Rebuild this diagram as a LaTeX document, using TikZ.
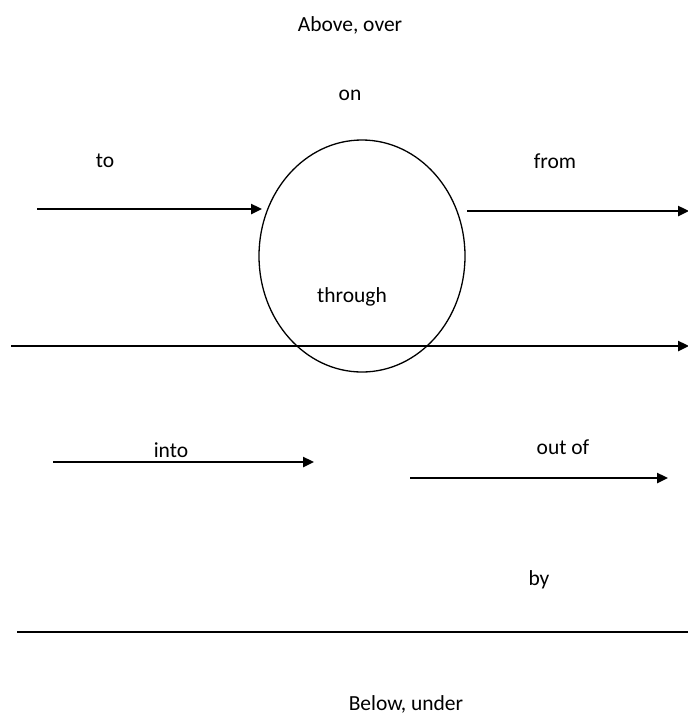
\documentclass[tikz,border=0pt]{standalone}
\usepackage{fontspec}
\setmainfont{Carlito}
\usetikzlibrary{arrows.meta,shapes.geometric}
\begin{document}
\begin{tikzpicture}[x=1pt,y=-1pt,
  lbl/.style={font=\fontsize{21.5}{24}\selectfont, inner sep=0pt},
  arr/.style={line width=2.4pt, -{Triangle[length=11pt,width=10pt]}},
  bar/.style={line width=2.4pt}]
\useasboundingbox (0,0) rectangle (688,716);
\node[lbl] (above) at (350,25) {Above, over};
\node[lbl] (on) at (350,95) {on};
\node[lbl] (to) at (105,161) {to};
\node[lbl] (from) at (555,161) {from};
\node[draw, ellipse, line width=1.3pt, minimum width=206pt, minimum height=232pt, inner sep=0pt] (circ) at (362,256) {};
\node[lbl] (through) at (352,297) {through};
\node[lbl, anchor=base] (into) at (171,457) {into};
\node[lbl] (outof) at (563,447) {out of};
\node[lbl] (by) at (539,580) {by};
\node[lbl] (below) at (406,704) {Below, under};
\coordinate (a1) at (37,209);
\coordinate (a2) at (262,209);
\coordinate (b1) at (467,211);
\coordinate (b2) at (689,211);
\coordinate (c1) at (11,346);
\coordinate (c2) at (689,346);
\coordinate (d1) at (53,462);
\coordinate (d2) at (314,462);
\coordinate (e1) at (410,478);
\coordinate (e2) at (668,478);
\coordinate (f1) at (17,632);
\coordinate (f2) at (688,632);
\draw[arr] (a1) -- (a2);
\draw[arr] (b1) -- (b2);
\draw[arr] (c1) -- (c2);
\draw[arr] (d1) -- (d2);
\draw[arr] (e1) -- (e2);
\draw[bar] (f1) -- (f2);
\end{tikzpicture}
\end{document}
